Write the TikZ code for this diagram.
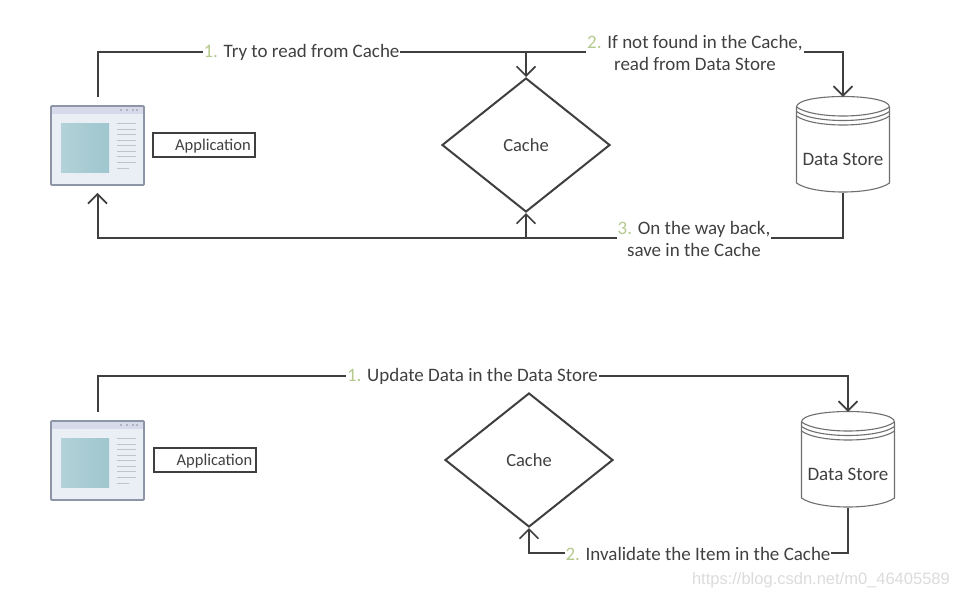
\documentclass[tikz,border=0pt]{standalone}
\usepackage{fontspec}
\setmainfont{Carlito}
\usetikzlibrary{arrows.meta,shapes.geometric,calc}
\definecolor{ink}{HTML}{3F3F3F}
\definecolor{txt}{HTML}{404040}
\definecolor{num}{HTML}{B5C98E}
\definecolor{winedge}{HTML}{8D96A6}
\definecolor{winbody}{HTML}{E9EFF4}
\definecolor{winbar}{HTML}{D6DAEA}
\definecolor{winline}{HTML}{BCC4CE}
\definecolor{teal}{HTML}{9FC6CE}
\tikzset{
  wire/.style={draw=ink,line width=2pt},
  arr/.style={wire,-{Straight Barb[length=9.5pt,width=19pt,line width=1.7pt]}},
  lab/.style={font=\fontsize{19}{22}\selectfont,text=txt,align=center,inner sep=0.8pt},
  cachebox/.style={diamond,draw=ink,line width=2pt,minimum width=168pt,minimum height=134pt,aspect=1.25,inner sep=0pt,font=\fontsize{18.5}{20}\selectfont,text=txt},
  namebox/.style={draw=ink,line width=2pt,minimum width=102pt,minimum height=24pt,inner sep=0pt,font=\fontsize{16.5}{20}\selectfont,text=txt},
  winbox/.style={draw=winedge,line width=1.9pt,fill=winbody,rounded corners=1pt,minimum width=93pt,minimum height=79pt,inner sep=0pt},
  storebox/.style={minimum width=93pt,minimum height=96pt,inner sep=0pt},
  storeline/.style={draw=ink!75,line width=1.1pt},
}
\newcommand{\appicon}[3]{% name, x, y centre
  \node[winbox] (#1) at (#2,#3) {};
  \begin{scope}[shift={(#2,#3)}]
    \fill[winbar] (-45.5,-38.5) rectangle (45.5,-32);
    \foreach \bx in {23,29,35,39}{\fill[winedge!70] (\bx-1,-36.5) rectangle (\bx+1,-34.5);}
    \fill[left color=teal!80!white,right color=teal] (-36.5,-22) rectangle (11.5,27);
    \foreach \ly in {-22,-16.5,-11,-5.5,0,5.5,11,16.5}{\draw[winline,line width=1pt] (19.5,\ly) -- (38.5,\ly);}
    \draw[winline,line width=1pt] (19.5,22.5) -- (31,22.5);
  \end{scope}}
\newcommand{\storeicon}[4]{% name, x, y centre, text
  \node[storebox] (#1) at (#2,#3) {};
  \begin{scope}[shift={(#2,#3)}]
    \draw[storeline,fill=white] (-46.5,-38) .. controls (-46.5,-52) and (46.5,-52) .. (46.5,-38)
      -- (46.5,38) .. controls (30,50) and (-30,50) .. (-46.5,38) -- cycle;
    \draw[storeline] (-46.5,-38) .. controls (-30,-26) and (30,-26) .. (46.5,-38);
    \draw[storeline] (-46.5,-33.5) .. controls (-30,-21.5) and (30,-21.5) .. (46.5,-33.5);
    \draw[storeline] (-46.5,-29) .. controls (-30,-17) and (30,-17) .. (46.5,-29);
  \end{scope}
  \node[font=\fontsize{19}{22}\selectfont,text=txt] at (#2,#3+14.5) {#4};}
\begin{document}
\begin{tikzpicture}[x=1pt,y=-1pt]
\useasboundingbox (0,0) rectangle (959,598);
% top panel
\appicon{appA}{97.5}{145.5}
\node[namebox] (nameA) at (203.5,144.5) {\hspace*{19pt}\raisebox{-5.5pt}[0pt][0pt]{Application}};
\node[cachebox] (cacheA) at (526,145) {Cache};
\storeicon{storeA}{843}{145}{Data Store}
\node[lab] (readA) at (301.5,52.5) {{\color{num}1.} Try to read from Cache};
\node[lab] (missA) at (695,52.5) {{\color{num}2.} If not found in the Cache,\\read from Data Store};
\node[lab] (backA) at (694,238.5) {{\color{num}3.} On the way back,\\save in the Cache};
\coordinate (upA) at ($(appA.north)+(0,-8)$);
\coordinate (lineA) at (0,52);
\coordinate (lineB) at (0,238);
\coordinate (tapA) at (cacheA.north |- lineA);
\coordinate (tapB) at (cacheA.south |- lineB);
\draw[wire] (upA) |- (readA.west |- lineA);
\draw[wire] (readA.east |- lineA) -- (missA.west |- lineA);
\draw[arr] (tapA) -- (cacheA.north);
\draw[arr] (missA.east |- lineA) -| (storeA.north);
\draw[wire] (storeA.south) |- (backA.east |- lineB);
\draw[arr] (backA.west |- lineB) -| ($(appA.south)+(0,7)$);
\draw[arr] (tapB) -- (cacheA.south);
% bottom panel
\appicon{appB}{97.5}{460.5}
\node[namebox] (nameB) at (205,459.5) {\hspace*{19pt}\raisebox{-5.5pt}[0pt][0pt]{Application}};
\node[cachebox] (cacheB) at (529,460) {Cache};
\storeicon{storeB}{848}{460}{Data Store}
\node[lab] (updB) at (472.5,376.5) {{\color{num}1.} Update Data in the Data Store};
\node[lab] (invB) at (698,553.5) {{\color{num}2.} Invalidate the Item in the Cache};
\coordinate (lineC) at (0,376);
\coordinate (lineD) at (0,553);
\draw[wire] ($(appB.north)+(0,-8)$) |- (updB.west |- lineC);
\draw[arr] (updB.east |- lineC) -| (storeB.north);
\draw[wire] (storeB.south) |- (invB.east |- lineD);
\draw[arr] (invB.west |- lineD) -| (cacheB.south);
\node[font=\fontsize{16.5}{20}\selectfont, text=black!14, anchor=east, inner sep=0pt] (mark) at (950,580) {\fontspec{Liberation Sans}https://blog.csdn.net/m0\_46405589};
\end{tikzpicture}
\end{document}
